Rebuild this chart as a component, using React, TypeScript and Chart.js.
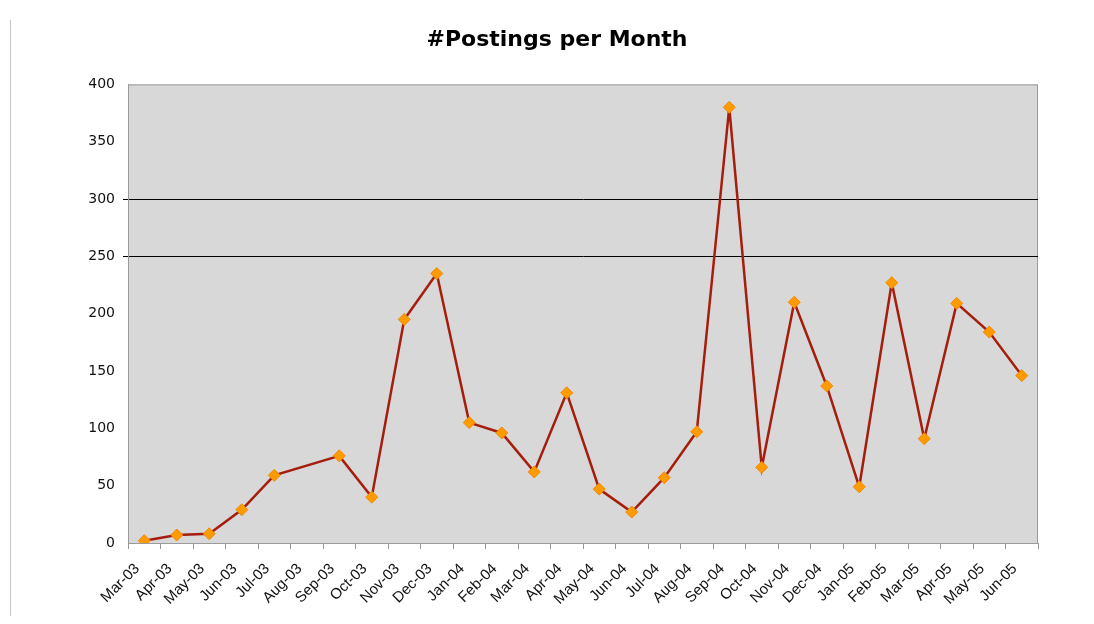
import React, { useEffect, useRef } from "react";
import { Chart, registerables } from "chart.js";

Chart.register(...registerables);

const categories = [
  "Mar-03", "Apr-03", "May-03", "Jun-03", "Jul-03", "Aug-03", "Sep-03", "Oct-03", "Nov-03", "Dec-03",
  "Jan-04", "Feb-04", "Mar-04", "Apr-04", "May-04", "Jun-04", "Jul-04", "Aug-04", "Sep-04", "Oct-04", "Nov-04", "Dec-04",
  "Jan-05", "Feb-05", "Mar-05", "Apr-05", "May-05", "Jun-05",
];

const postings: (number | null)[] = [
  2, 7, 8, 29, 59, null, 76, 40, 195, 235,
  105, 96, 62, 131, 47, 27, 57, 97, 380, 66, 210, 137,
  49, 227, 91, 209, 184, 146,
];

const highlightedGridValues = [250, 300];
const yTickValues = [0, 50, 100, 150, 200, 250, 300, 350, 400];

const plotBackground = {
  id: "plotBackground",
  beforeDraw(chart: any) {
    const { ctx, chartArea } = chart;
    if (!chartArea) return;
    ctx.save();
    ctx.fillStyle = "#d8d8d8";
    ctx.fillRect(chartArea.left, chartArea.top, chartArea.right - chartArea.left, chartArea.bottom - chartArea.top);
    ctx.strokeStyle = "#9a9a9a";
    ctx.lineWidth = 1;
    ctx.strokeRect(chartArea.left + 0.5, chartArea.top + 0.5, chartArea.right - chartArea.left - 1, chartArea.bottom - chartArea.top);
    ctx.restore();
  },
};

export default function App() {
  const canvasRef = useRef<HTMLCanvasElement | null>(null);

  useEffect(() => {
    if (!canvasRef.current) return;
    const chart = new Chart(canvasRef.current, {
      type: "line",
      data: {
        labels: categories,
        datasets: [
          {
            label: "#Postings",
            data: postings,
            borderColor: "#a51d0c",
            borderWidth: 2.5,
            pointStyle: "rectRot",
            pointRadius: 6,
            pointHoverRadius: 6,
            pointBackgroundColor: "#ff9a00",
            pointBorderColor: "#f08a00",
            pointBorderWidth: 1,
            spanGaps: true,
            tension: 0,
          },
        ],
      },
      plugins: [plotBackground],
      options: {
        animation: false,
        responsive: true,
        maintainAspectRatio: false,
        layout: { padding: { left: 20, right: 0, top: 0, bottom: 0 } },
        plugins: {
          legend: { display: false },
          tooltip: { enabled: false },
          title: {
            display: true,
            text: "#Postings per Month",
            color: "#000",
            font: { family: "'DejaVu Sans', Verdana, sans-serif", size: 22, weight: "bold" },
            padding: { top: 19, bottom: 31 },
          },
        },
        scales: {
          x: {
            type: "category",
            offset: true,
            grid: {
              offset: true,
              drawOnChartArea: false,
              drawTicks: true,
              tickLength: 6,
              color: "#9a9a9a",
            },
            border: { display: true, color: "#9a9a9a", width: 1 },
            ticks: {
              autoSkip: false,
              minRotation: 45,
              maxRotation: 45,
              padding: 11,
              labelOffset: -7,
              color: "#111",
              font: { family: "'Liberation Sans', Arial, sans-serif", size: 15 },
            },
            afterFit(scale: any) {
              scale.height = 73;
            },
          },
          y: {
            min: 0,
            max: 400,
            afterBuildTicks(scale: any) {
              scale.ticks = yTickValues.map((v) => ({ value: v }));
            },
            grid: {
              drawTicks: true,
              tickLength: 5,
              color: (c: any) => (c.tick && highlightedGridValues.includes(c.tick.value) ? "#000" : "rgba(0,0,0,0)"),
              lineWidth: 1,
            },
            border: { display: true, color: "#9a9a9a", width: 1 },
            ticks: {
              padding: 8,
              color: "#111",
              font: { family: "'DejaVu Sans', Verdana, sans-serif", size: 14 },
            },
            afterFit(scale: any) {
              scale.width = 100;
            },
          },
          yRight: {
            position: "right",
            display: true,
            grid: { display: false, drawTicks: false },
            border: { display: false },
            ticks: { display: false },
            afterFit(scale: any) {
              scale.width = 48;
            },
          },
        },
      },
    });
    return () => chart.destroy();
  }, []);

  return (
    <div style={{ position: "relative", width: 1078, height: 608 }}>
      <div
        style={{
          position: "absolute",
          left: 2,
          top: 12,
          height: 612,
          borderLeft: "1px solid #c4c4c4",
        }}
      />
      <canvas ref={canvasRef} />
    </div>
  );
}
